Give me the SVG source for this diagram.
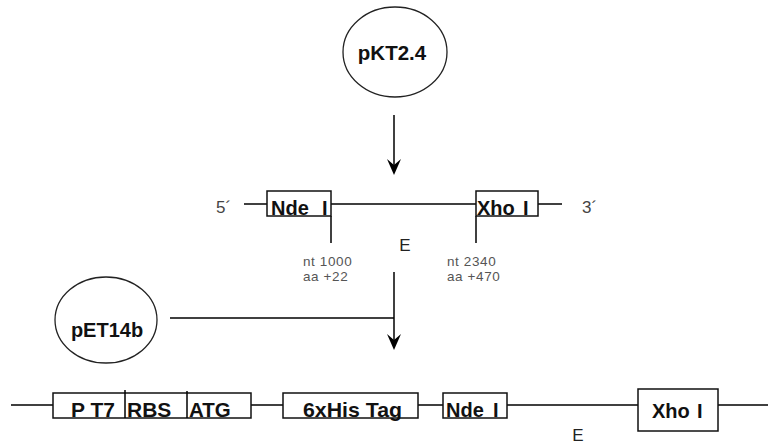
<svg xmlns="http://www.w3.org/2000/svg" width="768" height="445" viewBox="0 0 768 445">
<style>
.ln{stroke:#000;stroke-width:1.5;fill:none}
.box{stroke:#111;stroke-width:1.5;fill:#fff}
.ell{stroke:#222;stroke-width:1.3;fill:#fff}
.lbl{font-family:"Liberation Sans",Arial,sans-serif;font-weight:bold;fill:#111}
.end{font-family:"Liberation Sans",Arial,sans-serif;font-size:17px;fill:#444}
.nt{font-family:"Liberation Sans",Arial,sans-serif;font-size:13.5px;fill:#555;letter-spacing:0.6px}
.e{font-family:"Liberation Sans",Arial,sans-serif;font-size:17px;fill:#222}
</style>
<defs>
<path id="ah" d="M0,0 L-7,-16 L0,-10 L7,-16 Z" fill="#000"/>
</defs>
<rect width="768" height="445" fill="#fff"/>

<g id="connectors">
<line class="ln" x1="394" y1="115" x2="394" y2="166"/>
<use href="#ah" x="394" y="175"/>
<line class="ln" x1="394" y1="272" x2="394" y2="341"/>
<line class="ln" x1="170" y1="318" x2="394" y2="318"/>
<use href="#ah" x="394" y="350"/>
<line class="ln" x1="244" y1="204" x2="267" y2="204"/>
<line class="ln" x1="331" y1="204" x2="476" y2="204"/>
<line class="ln" x1="538" y1="204" x2="562" y2="204"/>
<line class="ln" x1="331" y1="216" x2="331" y2="243"/>
<line class="ln" x1="476" y1="216" x2="476" y2="243"/>
<line class="ln" x1="11" y1="405" x2="53" y2="405"/>
<line class="ln" x1="251" y1="405" x2="283" y2="405"/>
<line class="ln" x1="418" y1="405" x2="443" y2="405"/>
<line class="ln" x1="507" y1="405" x2="638" y2="405"/>
<line class="ln" x1="718" y1="405" x2="768" y2="405"/>
</g>

<g id="pKT24">
<ellipse class="ell" cx="395" cy="52" rx="52" ry="45"/>
<text class="lbl" x="392" y="60" font-size="20.5" text-anchor="middle">pKT2.4</text>
</g>

<g id="pET14b">
<ellipse class="ell" cx="106" cy="320" rx="51" ry="43"/>
<text class="lbl" x="107" y="337" font-size="20" text-anchor="middle">pET14b</text>
</g>

<g id="insert-top">
<text class="end" x="216" y="213">5´</text>
<text class="end" x="582" y="213">3´</text>
<text class="e" x="405" y="251" text-anchor="middle">E</text>
<text class="nt" x="303" y="266">nt 1000</text>
<text class="nt" x="303" y="281">aa +22</text>
<text class="nt" x="447" y="266">nt 2340</text>
<text class="nt" x="447" y="281">aa +470</text>
</g>

<g id="NdeI-top">
<rect class="box" x="267" y="191" width="64" height="25"/>
<text class="lbl" x="271" y="215" font-size="20">Nde<tspan x="322">I</tspan></text>
</g>

<g id="XhoI-top">
<rect class="box" x="476" y="191" width="62" height="25"/>
<text class="lbl" x="477" y="215" font-size="20">Xho<tspan x="523">I</tspan></text>
</g>

<g id="PT7-RBS-ATG">
<rect class="box" x="53" y="393" width="198" height="25"/>
<line class="ln" x1="125" y1="390" x2="125" y2="418"/>
<line class="ln" x1="187" y1="391" x2="187" y2="418"/>
<text class="lbl" x="71" y="417" font-size="21">P T7</text>
<text class="lbl" x="127" y="417" font-size="21">RBS</text>
<text class="lbl" x="189" y="417" font-size="20.5">ATG</text>
</g>

<g id="HisTag">
<rect class="box" x="283" y="393" width="135" height="25"/>
<text class="lbl" x="303" y="417" font-size="21" textLength="99" lengthAdjust="spacingAndGlyphs">6xHis Tag</text>
</g>

<g id="NdeI-bottom">
<rect class="box" x="443" y="393" width="64" height="25"/>
<text class="lbl" x="446" y="417" font-size="20">Nde<tspan x="493">I</tspan></text>
</g>

<g id="XhoI-bottom">
<rect class="box" x="638" y="389" width="80" height="42"/>
<text class="lbl" x="652" y="418" font-size="20">Xho<tspan x="697">I</tspan></text>
</g>

<text class="e" x="578" y="441" text-anchor="middle">E</text>
</svg>
